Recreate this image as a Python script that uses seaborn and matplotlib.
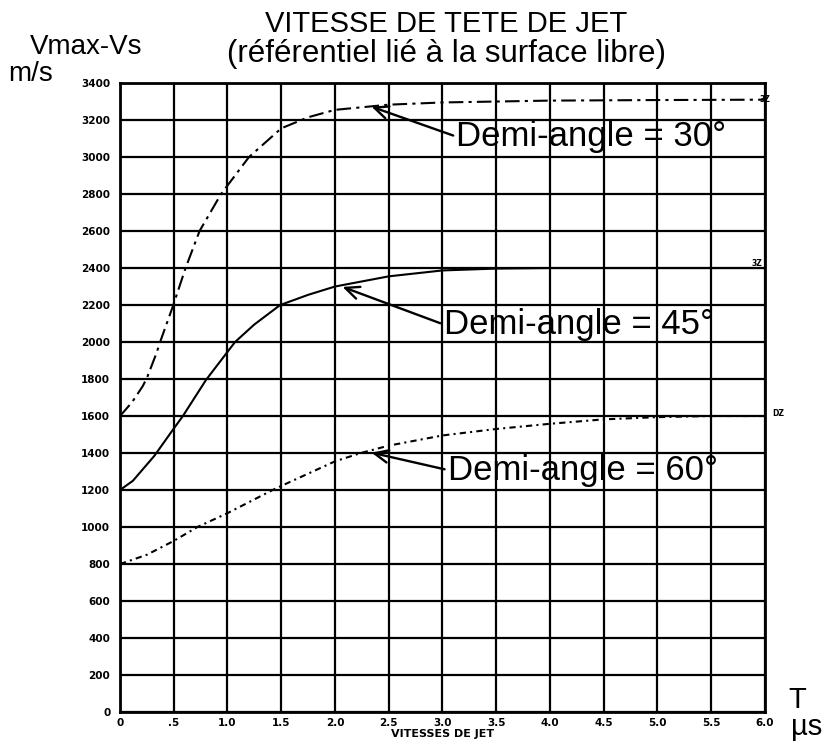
import matplotlib
matplotlib.use("Agg")
import matplotlib.pyplot as plt
import pandas as pd
import seaborn as sns

# Jet head velocity (m/s) versus time (microseconds), one curve per half-angle
t_30 = [0, 0.11, 0.21, 0.25, 0.34, 0.37, 0.49, 0.61, 0.74, 0.94, 1.2, 1.5, 1.75, 2.0, 2.5, 3.0, 3.5, 4.0, 5.0, 6.0]
v_30 = [1600, 1673, 1760, 1805, 1941, 1995, 2190, 2400, 2600, 2800, 3000, 3155, 3215, 3255, 3283, 3295, 3300, 3305, 3308, 3310]

t_45 = [0, 0.12, 0.32, 0.49, 0.585, 0.8, 1.07, 1.25, 1.49, 1.75, 2.0, 2.5, 3.0, 3.5, 4.0, 5.0, 6.0]
v_45 = [1200, 1250, 1385, 1524, 1600, 1795, 2000, 2095, 2200, 2255, 2300, 2355, 2387, 2397, 2400, 2400, 2400]

t_60 = [0, 0.25, 0.5, 0.72, 1.0, 1.42, 1.5, 2.0, 2.24, 2.5, 3.0, 3.5, 4.0, 4.5, 5.0, 5.5, 6.0]
v_60 = [800, 850, 925, 1000, 1075, 1200, 1222, 1355, 1400, 1440, 1495, 1530, 1558, 1582, 1594, 1600, 1600]

angles = ["30", "45", "60"]
curve_labels = ["Demi-angle = 30°", "Demi-angle = 45°", "Demi-angle = 60°"]
end_marks = ["3Z", "3Z", "DZ"]

x_ticks = [0, 0.5, 1.0, 1.5, 2.0, 2.5, 3.0, 3.5, 4.0, 4.5, 5.0, 5.5, 6.0]
x_tick_labels = ["0", ".5", "1.0", "1.5", "2.0", "2.5", "3.0", "3.5", "4.0", "4.5", "5.0", "5.5", "6.0"]
y_ticks = list(range(0, 3401, 200))
y_tick_labels = [str(v) for v in y_ticks]

df = pd.concat([
    pd.DataFrame({"T": t_30, "V": v_30, "angle": "30"}),
    pd.DataFrame({"T": t_45, "V": v_45, "angle": "45"}),
    pd.DataFrame({"T": t_60, "V": v_60, "angle": "60"}),
], ignore_index=True)

sns.set_style("white")
plt.rcParams["font.family"] = ["Liberation Sans", "DejaVu Sans"]
plt.rcParams["text.color"] = "black"

fig = plt.figure(figsize=(8.27, 7.42), dpi=100)
ax = fig.add_axes([0.1451, 0.0404, 0.925 - 0.1451, 0.8881 - 0.0404])

line_dashes = {"30": (7, 2.5, 1.5, 2.5), "45": "", "60": (3, 2, 1, 2)}
sns.lineplot(data=df, x="T", y="V", style="angle", dashes=line_dashes,
             color="black", linewidth=1.5, estimator=None, sort=False,
             legend=False, ax=ax, zorder=4)

ax.set_xlim(0, 6)
ax.set_ylim(0, 3400)
ax.set_xticks(x_ticks)
ax.set_xticklabels(x_tick_labels)
ax.set_yticks(y_ticks)
ax.set_yticklabels(y_tick_labels)
tick_font = dict(family="DejaVu Sans", weight="bold", size=7.5)
for lab in ax.get_xticklabels() + ax.get_yticklabels():
    lab.set_fontproperties(tick_font)
    lab.set_color("black")
ax.tick_params(axis="both", length=0)
ax.tick_params(axis="y", pad=7)
ax.tick_params(axis="x", pad=4)
ax.set_xlabel("")
ax.set_ylabel("")

ax.grid(True, color="black", linewidth=1.6)
ax.set_axisbelow(True)
for sp in ax.spines.values():
    sp.set_color("black")
    sp.set_linewidth(2)

# curve labels with arrows
label_anchor = [((2.34, 3272), (3.13, 3110)),
                ((2.07, 2298), (3.01, 2095)),
                ((2.34, 1402), (3.05, 1308))]
for text, (tip, pos) in zip(curve_labels, label_anchor):
    ax.annotate(text, xy=tip, xytext=pos, ha="left", va="center",
                fontsize=25, color="black", zorder=5,
                arrowprops=dict(arrowstyle="->,head_length=0.4,head_width=0.18",
                                color="black", lw=1.7, relpos=(0, 0.5),
                                shrinkA=0, shrinkB=0))

# plotter marks at the end of each curve
ax.text(6.0, 3310, end_marks[0], fontsize=5.5, fontweight="bold", family="DejaVu Sans",
        ha="center", va="center", clip_on=False)
ax.text(5.98, 2400, end_marks[1], fontsize=5.5, fontweight="bold", family="DejaVu Sans",
        ha="right", va="bottom", clip_on=False)
ax.text(6.07, 1615, end_marks[2], fontsize=5.5, fontweight="bold", family="DejaVu Sans",
        ha="left", va="center", clip_on=False)

ax.text(3.0, -118, "VITESSES DE JET", fontsize=8, fontweight="bold", family="DejaVu Sans",
        ha="center", va="center", clip_on=False)

# titles and unit labels
fig.text(0.54, 0.957, "VITESSE DE TETE DE JET", fontsize=21, ha="center", va="baseline")
fig.text(0.54, 0.917, "(référentiel lié à la surface libre)", fontsize=22.5, ha="center", va="baseline")
fig.text(0.036, 0.927, "Vmax-Vs", fontsize=20, ha="left", va="baseline")
fig.text(0.010, 0.891, "m/s", fontsize=20, ha="left", va="baseline")
fig.text(0.964, 0.046, "T", fontsize=21, ha="center", va="baseline")
fig.text(0.957, 0.009, "µs", fontsize=21, ha="left", va="baseline")

fig.savefig("out.png", dpi=100)
